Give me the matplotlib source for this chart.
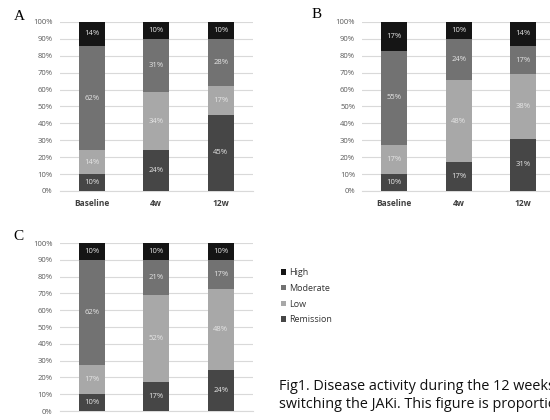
import matplotlib
matplotlib.use("Agg")
import matplotlib.pyplot as plt
from matplotlib.patches import Patch
import numpy as np

categories = ["Baseline", "4w", "12w"]
levels = ["Remission", "Low", "Moderate", "High"]
colors = {"Remission": "#464646", "Low": "#a8a8a8", "Moderate": "#727272", "High": "#151515"}

# percentages per panel, per level (Remission, Low, Moderate, High), per category
panel_A = {"Remission": [10, 24, 45], "Low": [14, 34, 17], "Moderate": [62, 31, 28], "High": [14, 10, 10]}
panel_B = {"Remission": [10, 17, 31], "Low": [17, 48, 38], "Moderate": [55, 24, 17], "High": [17, 10, 14]}
panel_C = {"Remission": [10, 17, 24], "Low": [17, 52, 48], "Moderate": [62, 21, 17], "High": [10, 10, 10]}

yticks = [0, 10, 20, 30, 40, 50, 60, 70, 80, 90, 100]
caption = ["Fig1. Disease activity during the 12 weeks after",
           "switching the JAKi. This figure is proportional"]

W, H = 550, 420
fig = plt.figure(figsize=(5.5, 4.2), dpi=100)

def ax_rect(x0, x1, ytop, ybot):
    return [x0 / W, 1 - ybot / H, (x1 - x0) / W, (ybot - ytop) / H]

def draw(ax, data, show_x=True):
    x = np.arange(len(categories))
    tot = np.sum([data[l] for l in levels], axis=0)
    bottom = np.zeros(len(categories))
    for l in levels:
        vals = np.array(data[l], dtype=float)
        h = vals / tot * 100
        ax.bar(x, h, bottom=bottom, width=0.4, color=colors[l], zorder=3)
        for xi, b, hh, v in zip(x, bottom, h, vals):
            ax.text(xi, b + hh / 2, f"{int(v)}%", ha="center", va="center",
                    fontsize=5.5, color="#e6e6e6", zorder=4, family="Open Sans")
        bottom += h
    ax.set_xlim(-0.5, 2.5)
    ax.set_ylim(0, 100)
    ax.set_yticks(yticks)
    ax.set_yticklabels([f"{t}%" for t in yticks], fontsize=5.5, color="#595959", family="Open Sans")
    ax.set_xticks(x)
    if show_x:
        ax.set_xticklabels(categories, fontsize=6, fontweight="bold", color="#404040", family="Open Sans")
    else:
        ax.set_xticklabels([])
    ax.tick_params(length=0, pad=5)
    ax.tick_params(axis="x", pad=6)
    ax.grid(axis="y", color="#d9d9d9", lw=0.8, zorder=0)
    for s in ["top", "right", "left"]:
        ax.spines[s].set_visible(False)
    ax.spines["bottom"].set_color("#d9d9d9")
    ax.spines["bottom"].set_linewidth(0.8)

axA = fig.add_axes(ax_rect(59.5, 253, 22, 191))
draw(axA, panel_A)
axB = fig.add_axes(ax_rect(362, 555.5, 22, 191))
draw(axB, panel_B)
axC = fig.add_axes(ax_rect(59.5, 253, 243, 411))
draw(axC, panel_C, show_x=False)

fig.text(19 / W, 1 - 17 / H, "A", fontsize=11, family="Liberation Serif", ha="center", va="center")
fig.text(317 / W, 1 - 15 / H, "B", fontsize=11, family="Liberation Serif", ha="center", va="center")
fig.text(18 / W, 1 - 237 / H, "C", fontsize=11, family="Liberation Serif", ha="center", va="center")

handles = [Patch(facecolor=colors[l], label=l) for l in reversed(levels)]
fig.legend(handles=handles, loc="upper left", bbox_to_anchor=(281 / W, 1 - 268 / H),
           frameon=False, handlelength=0.55, handleheight=0.55,
           handletextpad=0.4, labelspacing=0.75, borderpad=0, borderaxespad=0,
           prop={"family": "Open Sans", "size": 6.5}, labelcolor="#333333")

fig.text(279 / W, 1 - 387 / H, caption[0], fontsize=10.4, family="Open Sans", va="center", ha="left", color="#111111")
fig.text(279 / W, 1 - 405 / H, caption[1], fontsize=10.4, family="Open Sans", va="center", ha="left", color="#111111")

fig.savefig("out.png", dpi=100)
